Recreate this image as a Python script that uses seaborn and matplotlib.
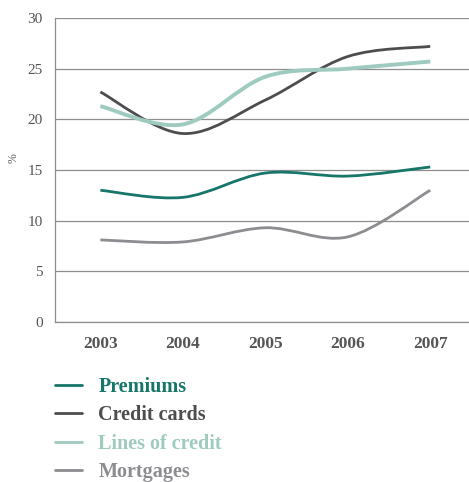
import matplotlib
matplotlib.use("Agg")
import matplotlib.pyplot as plt
from matplotlib.path import Path
from matplotlib.patches import PathPatch
from matplotlib.lines import Line2D
import numpy as np
import seaborn as sns

years = ["2003", "2004", "2005", "2006", "2007"]
premiums = [13.0, 12.3, 14.7, 14.4, 15.3]
credit_cards = [22.7, 18.6, 21.9, 26.2, 27.2]
lines_of_credit = [21.3, 19.5, 24.2, 25.0, 25.7]
mortgages = [8.1, 7.9, 9.3, 8.4, 13.0]

series_names = ["Premiums", "Credit cards", "Lines of credit", "Mortgages"]
series_values = [premiums, credit_cards, lines_of_credit, mortgages]
colors = ["#17766a", "#4d4d50", "#9ecabf", "#8c8c91"]
widths = [2.0, 2.0, 2.8, 2.0]

y_ticks = [0, 5, 10, 15, 20, 25, 30]

sns.set_theme(style="white")
plt.rcParams["font.family"] = ["Liberation Serif", "DejaVu Serif"]

fig = plt.figure(figsize=(4.69, 4.82), dpi=100)
ax = fig.add_axes([55 / 469, 1 - 322 / 482, 1 - 55 / 469, (322 - 18) / 482])


def smooth_path(xs, ys, t=1 / 6):
    """Cubic Bezier path through the points (Catmull-Rom style smoothing)."""
    pts = np.column_stack([xs, ys]).astype(float)
    n = len(pts)
    verts = [pts[0]]
    codes = [Path.MOVETO]
    for i in range(n - 1):
        p_prev = pts[max(i - 1, 0)]
        p0 = pts[i]
        p1 = pts[i + 1]
        p_next = pts[min(i + 2, n - 1)]
        c1 = p0 + (p1 - p_prev) * t
        c2 = p1 - (p_next - p0) * t
        verts += [c1, c2, p1]
        codes += [Path.CURVE4] * 3
    return Path(verts, codes)


x = np.arange(len(years))
for vals, col, lw in zip(series_values, colors, widths):
    patch = PathPatch(smooth_path(x, vals), facecolor="none", edgecolor=col,
                      lw=lw, capstyle="butt", zorder=3)
    ax.add_patch(patch)

ax.set_xlim(-0.55, 4.47)
ax.set_ylim(0, 30)
ax.set_xticks(x)
ax.set_xticklabels(years)
ax.set_yticks(y_ticks)

ax.yaxis.grid(True, color="#8e8e8e", lw=0.9)
ax.xaxis.grid(False)
ax.set_axisbelow(True)
for side in ["top", "right"]:
    ax.spines[side].set_visible(False)
for side in ["left", "bottom"]:
    ax.spines[side].set_color("#8e8e8e")
    ax.spines[side].set_linewidth(0.9)

ax.tick_params(axis="both", length=0)
ax.tick_params(axis="y", pad=9, labelsize=11, labelcolor="#555555")
ax.tick_params(axis="x", pad=10, labelsize=12.5, labelcolor="#555555")
for lab in ax.get_xticklabels():
    lab.set_fontweight("semibold")

ax.set_ylabel("%", fontsize=8.5, color="#555555")
ax.yaxis.set_label_coords(-0.085, 0.54)

handles = [Line2D([0], [0], color=c, lw=2) for c in colors]
leg = fig.legend(handles, series_names, loc="upper left",
                 bbox_to_anchor=(55 / 469, 1 - 377 / 482),
                 frameon=False, handlelength=1.35,
                 handletextpad=0.8, labelspacing=0.42, borderaxespad=0,
                 borderpad=0, labelcolor=colors,
                 prop={"weight": "bold", "size": 14.5})

fig.savefig("out.png", dpi=100)
